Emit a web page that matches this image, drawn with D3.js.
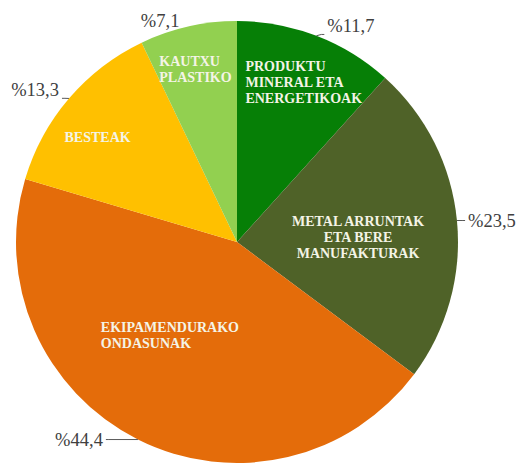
<!DOCTYPE html>
<html>
<head>
<meta charset="utf-8">
<script src="https://cdn.jsdelivr.net/npm/d3@7"></script>
<style>
  html, body { margin: 0; padding: 0; background: #fff; }
  svg { display: block; }
</style>
</head>
<body>
<svg id="chart" width="518" height="464"></svg>
<script>
// ---- data ----
const categories = [
  ["PRODUKTU", "MINERAL ETA", "ENERGETIKOAK"],
  ["METAL ARRUNTAK", "ETA BERE", "MANUFAKTURAK"],
  ["EKIPAMENDURAKO", "ONDASUNAK"],
  ["BESTEAK"],
  ["KAUTXU", "PLASTIKO"]
];
const values = [11.7, 23.5, 44.4, 13.3, 7.1];
const valueLabels = ["%11,7", "%23,5", "%44,4", "%13,3", "%7,1"];

// ---- style / layout ----
const colors = ["#067f06", "#4f6228", "#e46c0a", "#ffc000", "#92d050"];
// inner label block: polar (deg clockwise from top, radius factor), alignment
const innerPos = [
  {a: 22.7, k: 0.783, align: "left"},
  {a: 87.6, k: 0.548, align: "center"},
  {a: 215.8, k: 0.519, align: "left"},
  {a: 307.0, k: 0.790, align: "center"},
  {a: 346.5, k: 0.805, align: "left"}
];
// outer percentage labels
const outerPos = [
  {a: 27.8, k: 1.105, leader: true},
  {a: 85.1, k: 1.158, leader: true},
  {a: 218.6, k: 1.146, leader: true},
  {a: 307.0, k: 1.144, leader: true},
  {a: 340.9, k: 1.063, leader: false}
];

const cx = 237, cy = 242, r = 221;
const svg = d3.select("#chart");
const g = svg.append("g").attr("transform", `translate(${cx},${cy})`);

const pie = d3.pie().sort(null).value(d => d);
const arcs = pie(values);
const arc = d3.arc().innerRadius(0).outerRadius(r);

g.selectAll("path.slice")
  .data(arcs)
  .join("path")
  .attr("class", "slice")
  .attr("d", arc)
  .attr("fill", (d, i) => colors[i]);

const polar = (deg, rad) => {
  const t = deg * Math.PI / 180;
  return [rad * Math.sin(t), -rad * Math.cos(t)];
};

// inner labels
const lineH = 16;
categories.forEach((lines, i) => {
  const p = innerPos[i];
  const [x, y] = polar(p.a, p.k * r);
  const t = g.append("text")
    .attr("font-family", "'Liberation Serif', 'Times New Roman', serif")
    .attr("font-weight", "bold")
    .attr("font-size", 14)
    .attr("fill", "#f4f4e6");
  const y0 = y - (lines.length - 1) * lineH / 2;
  lines.forEach((ln, j) => {
    t.append("tspan")
      .attr("y", y0 + j * lineH)
      .attr("dy", "0.35em")
      .text(ln);
  });
  if (p.align === "center") {
    t.attr("text-anchor", "middle");
    t.selectAll("tspan").attr("x", x);
  } else {
    let maxW = 0;
    t.selectAll("tspan").attr("x", 0).each(function () {
      maxW = Math.max(maxW, this.getComputedTextLength());
    });
    t.attr("text-anchor", "start");
    t.selectAll("tspan").attr("x", x - maxW / 2);
  }
});

// outer labels with leaders
valueLabels.forEach((lab, i) => {
  const p = outerPos[i];
  const [x, y] = polar(p.a, p.k * r);
  const t = g.append("text")
    .attr("x", x).attr("y", y)
    .attr("dy", "0.35em")
    .attr("text-anchor", "middle")
    .attr("font-family", "'Liberation Serif', 'Times New Roman', serif")
    .attr("font-size", 18.5)
    .attr("fill", "#404040")
    .text(lab);
  if (p.leader) {
    const d = arcs[i];
    const mid = (d.startAngle + d.endAngle) / 2 * 180 / Math.PI;
    const [ex, ey] = polar(mid, r);
    const bb = t.node().getBBox();
    const sx = ex > x ? bb.x + bb.width + 3 : bb.x - 3;
    const sy = Math.max(bb.y + 3, Math.min(bb.y + bb.height - 2, ey));
    const midx = sx + (ex > x ? 3 : -3);
    g.append("path")
      .attr("d", `M${sx},${sy} L${midx},${sy} L${ex},${ey}`)
      .attr("fill", "none")
      .attr("stroke", "#595959")
      .attr("stroke-width", 1);
  }
});
</script>
</body>
</html>
